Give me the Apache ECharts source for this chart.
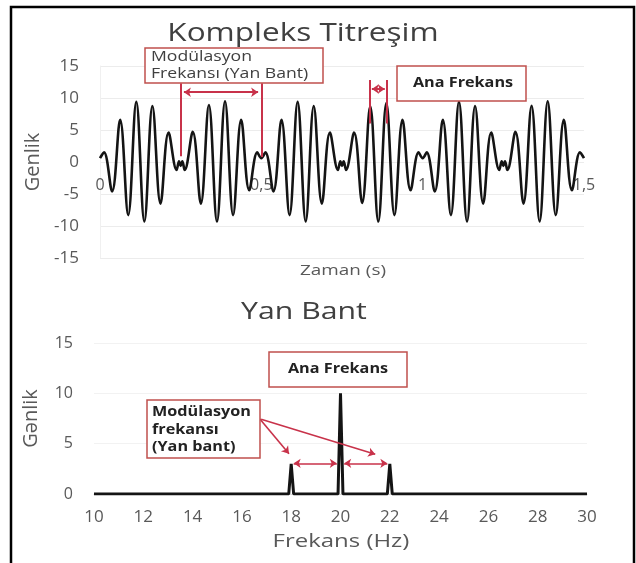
<!DOCTYPE html>
<html>
<head>
<meta charset="utf-8">
<script src="https://cdn.jsdelivr.net/npm/echarts@6/dist/echarts.min.js"></script>
<style>
html,body{margin:0;padding:0;background:#fff;}
#c{width:636px;height:563px;}
</style>
</head>
<body>
<div id="c"></div>
<script>
// ---- Top chart: Kompleks Titreşim (time signal) ----
const zamanT = [
  0, 0.0125, 0.0375, 0.0625, 0.0875, 0.1125, 0.1375, 0.1625, 0.1875, 0.2125,
  0.2375, 0.245, 0.25, 0.255, 0.2625,
  0.2875, 0.3125, 0.3375, 0.3625, 0.3875, 0.4125, 0.4375, 0.4625,
  0.4875, 0.5, 0.5125,
  0.5375, 0.5625, 0.5875, 0.6125, 0.6375, 0.6625, 0.6875, 0.7125,
  0.7375, 0.745, 0.75, 0.755, 0.7625,
  0.7875, 0.8125, 0.8375, 0.8625, 0.8875, 0.9125, 0.9375, 0.9625,
  0.9875, 1.0, 1.0125,
  1.0375, 1.0625, 1.0875, 1.1125, 1.1375, 1.1625, 1.1875, 1.2125,
  1.2375, 1.245, 1.25, 1.255, 1.2625,
  1.2875, 1.3125, 1.3375, 1.3625, 1.3875, 1.4125, 1.4375, 1.4625,
  1.4875, 1.5
];
const genlikV = [
  0.6, 1.5, -4.6, 6.6, -8.3, 9.4, -9.3, 8.75, -6.5, 4.6,
  -1.25, 0.1, -0.6, 0.1, -1.25,
  4.7, -6.5, 8.9, -9.3, 9.5, -8.3, 6.6, -4.4,
  1.5, 0.6, 1.5,
  -4.6, 6.6, -8.3, 9.4, -9.3, 8.75, -6.5, 4.6,
  -1.25, 0.1, -0.6, 0.1, -1.25,
  4.6, -6.4, 8.7, -9.3, 9.2, -8.3, 6.6, -4.4,
  1.5, 0.6, 1.5,
  -4.6, 6.6, -8.3, 9.4, -9.3, 8.75, -6.5, 4.6,
  -1.25, 0.1, -0.6, 0.1, -1.25,
  4.7, -6.5, 8.8, -9.3, 9.5, -8.3, 6.6, -4.4,
  1.5, 0.6
];
const zamanTicks = [0, 0.5, 1, 1.5];
const genlikTicksTop = [-15, -10, -5, 0, 5, 10, 15];

// ---- Bottom chart: Yan Bant (spectrum) ----
const frekansHz = [10, 17.9, 18, 18.1, 19.9, 20, 20.1, 21.9, 22, 22.1, 30];
const spektrumV = [0, 0, 3, 0, 0, 10, 0, 0, 3, 0, 0];
const frekansTicks = [10, 12, 14, 16, 18, 20, 22, 24, 26, 28, 30];
const genlikTicksBottom = [0, 5, 10, 15];

// annotation anchors (data coordinates)
const modBandT = [0.25, 0.5];
const anaFrekT = [0.8375, 0.8875];
const yanBantHz = [18, 20, 22];

const FONT = '"Open Sans", "Noto Sans", sans-serif';
const RED = '#c8324a';
const BOXRED = '#c0504d';
const GREY = '#595959';
const SX = 1.26; // horizontal stretch of the reference's lettering

const timeSeries = zamanT.map((t, i) => [t, genlikV[i]]);
const specSeries = frekansHz.map((f, i) => [f, spektrumV[i]]);

const chart = echarts.init(document.getElementById('c'), null, {renderer: 'canvas'});

const ml = (a, b, sym) => [{coord: a, symbol: sym[0]}, {coord: b, symbol: sym[1]}];
const txt = (x, y, text, size, opts) => Object.assign({
  type: 'text', x: x, y: y, z: 21, scaleX: SX,
  style: Object.assign({text: text, fill: GREY, fontSize: size, fontFamily: FONT,
                        align: 'center', verticalAlign: 'middle'}, (opts && opts.style) || {})
}, (opts && opts.el) || {});

const option = {
  animation: false,
  backgroundColor: '#ffffff',
  grid: [
    {left: 100, width: 484, top: 66, height: 192},
    {left: 94, width: 493, top: 343, height: 151},
    // helper grid whose bottom edge is the top chart's zero line (for the x tick labels)
    {left: 100, width: 484, top: 66, height: 96}
  ],
  xAxis: [
    {
      gridIndex: 0, type: 'value', min: 0, max: 1.5, interval: 0.5,
      axisLine: {show: false}, axisTick: {show: false},
      splitLine: {show: false}, axisLabel: {show: false}
    },
    {
      gridIndex: 1, type: 'value', min: 10, max: 30, interval: 2,
      axisLine: {show: true, onZero: false, lineStyle: {color: '#d9d9d9', width: 1}},
      axisTick: {show: false},
      splitLine: {show: false},
      axisLabel: {color: GREY, fontSize: 17, fontFamily: FONT, margin: 15,
        formatter: v => frekansTicks.includes(v) ? String(v) : ''}
    },
    {
      gridIndex: 2, type: 'value', min: 0, max: 1.5, interval: 0.5,
      axisLine: {show: false}, axisTick: {show: false}, splitLine: {show: false},
      axisLabel: {
        color: GREY, fontSize: 16, fontFamily: FONT, margin: 15,
        formatter: v => zamanTicks.includes(v) ? String(v).replace('.', ',') : ''
      }
    }
  ],
  yAxis: [
    {
      gridIndex: 0, type: 'value', min: -15, max: 15, interval: 5,
      axisLine: {show: true, lineStyle: {color: '#f0f0f0', width: 1}}, axisTick: {show: false},
      splitLine: {show: true, lineStyle: {color: '#ececec', width: 1}},
      axisLabel: {color: GREY, fontSize: 17, fontFamily: FONT, margin: 21,
        formatter: v => genlikTicksTop.includes(v) ? String(v) : ''},
      name: 'Genlik', nameLocation: 'middle', nameGap: 57, nameRotate: 90,
      nameTextStyle: {color: GREY, fontSize: 20, fontFamily: FONT}
    },
    {
      gridIndex: 1, type: 'value', min: 0, max: 15, interval: 5,
      axisLine: {show: false}, axisTick: {show: false},
      splitLine: {show: true, lineStyle: {color: '#f2f2f2', width: 1}},
      axisLabel: {color: GREY, fontSize: 16, fontFamily: FONT, margin: 21,
        formatter: v => genlikTicksBottom.includes(v) ? String(v) : ''},
      name: 'Gənlik', nameLocation: 'middle', nameGap: 53, nameRotate: 90,
      nameTextStyle: {color: GREY, fontSize: 20, fontFamily: FONT}
    },
    {
      gridIndex: 2, type: 'value', min: 0, max: 15, show: false
    }
  ],
  series: [
    {
      type: 'line', xAxisIndex: 0, yAxisIndex: 0, data: timeSeries,
      smooth: 0.38, showSymbol: false, symbol: 'none', z: 3,
      lineStyle: {color: '#141414', width: 2.6}
    },
    {
      type: 'line', xAxisIndex: 1, yAxisIndex: 1, data: specSeries,
      smooth: false, showSymbol: false, symbol: 'none', z: 3,
      lineStyle: {color: '#141414', width: 3}
    },
    {
      type: 'line', xAxisIndex: 0, yAxisIndex: 0, data: [], z: 5,
      markLine: {
        silent: true, animation: false, label: {show: false},
        lineStyle: {color: RED, width: 2, type: 'solid'},
        symbolSize: 7,
        emphasis: {disabled: true},
        data: [
          ml([modBandT[0], 12.3], [modBandT[0], 0.9], ['none', 'none']),
          ml([modBandT[1], 12.3], [modBandT[1], 0.8], ['none', 'none']),
          ml([modBandT[0] + 0.01, 10.9], [modBandT[1] - 0.01, 10.9], ['arrow', 'arrow']),
          ml([anaFrekT[0], 12.8], [anaFrekT[0], 6.0], ['none', 'none']),
          ml([anaFrekT[1], 12.8], [anaFrekT[1], 6.0], ['none', 'none']),
          ml([anaFrekT[0] + 0.005, 11.4], [anaFrekT[1] - 0.005, 11.4], ['arrow', 'arrow'])
        ]
      }
    },
    {
      type: 'line', xAxisIndex: 1, yAxisIndex: 1, data: [], z: 5,
      markLine: {
        silent: true, animation: false, label: {show: false},
        lineStyle: {color: RED, width: 1.6, type: 'solid'},
        symbolSize: 7,
        emphasis: {disabled: true},
        data: [
          ml([yanBantHz[0] + 0.1, 3.05], [yanBantHz[1] - 0.15, 3.05], ['arrow', 'arrow']),
          ml([yanBantHz[1] + 0.15, 3.05], [yanBantHz[2] - 0.1, 3.05], ['arrow', 'arrow']),
          ml([16.73, 7.45], [17.91, 4.0], ['none', 'arrow']),
          ml([16.78, 7.42], [21.41, 3.95], ['none', 'arrow'])
        ]
      }
    }
  ],
  graphic: [
    // outer frame
    {type: 'rect', shape: {x: 11, y: 7, width: 623, height: 570},
     style: {fill: 'none', stroke: '#000', lineWidth: 2.5}, z: 100},
    // titles and axis captions
    txt(303, 34, 'Kompleks Titreşim', 25, {style: {fill: '#404040'}}),
    txt(343, 271, 'Zaman (s)', 15),
    txt(304, 312, 'Yan Bant', 24, {style: {fill: '#404040'}}),
    txt(341, 542, 'Frekans (Hz)', 19),
    // top annotation boxes
    {type: 'rect', z: 20, shape: {x: 145, y: 48, width: 178, height: 35},
     style: {fill: '#fff', stroke: BOXRED, lineWidth: 1.5}},
    txt(151, 65.5, 'Modülasyon\nFrekansı (Yan Bant)', 14,
        {style: {fill: '#404040', lineHeight: 17, align: 'left'}}),
    {type: 'rect', z: 20, shape: {x: 397, y: 66, width: 129, height: 35},
     style: {fill: '#fff', stroke: BOXRED, lineWidth: 1.5}},
    txt(463, 83.5, 'Ana Frekans', 13.5, {style: {fill: '#222', fontWeight: 'bold'}, el: {scaleX: 1.2}}),
    // bottom annotation boxes
    {type: 'rect', z: 20, shape: {x: 269, y: 352, width: 138, height: 35},
     style: {fill: '#fff', stroke: BOXRED, lineWidth: 1.5}},
    txt(338, 369, 'Ana Frekans', 13.5, {style: {fill: '#222', fontWeight: 'bold'}, el: {scaleX: 1.2}}),
    {type: 'rect', z: 20, shape: {x: 147, y: 400, width: 113, height: 58},
     style: {fill: '#fff', stroke: BOXRED, lineWidth: 1.5}},
    txt(152, 430, 'Modülasyon\nfrekansı\n(Yan bant)', 13.5,
        {style: {fill: '#222', fontWeight: 'bold', lineHeight: 17.5, align: 'left'}, el: {scaleX: 1.2}})
  ]
};
chart.setOption(option);
</script>
</body>
</html>
